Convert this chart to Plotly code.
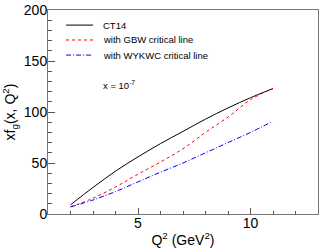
import plotly.graph_objects as go

q2 = [2, 3, 4, 5, 6, 7, 8, 9, 10, 11]
ct14 = [9, 26, 42, 56, 69, 81, 93, 104, 114, 123]
gbw = [7, 15.5, 26.5, 39, 51, 64, 80, 95, 112, 123]
wykwc = [7, 13.7, 22, 31.5, 41, 50, 60, 70, 80, 91]

series_names = ["CT14", "with GBW critical line", "with WYKWC critical line"]
series_colors = ["black", "#ff0000", "#0000ff"]
series_dash = ["solid", "3px,3px", "5px,2px,1px,2px"]
series_values = [ct14, gbw, wykwc]

FONT = "Liberation Sans, Arial, Helvetica, sans-serif"

fig = go.Figure()
for name, col, dash, vals in zip(series_names, series_colors, series_dash, series_values):
    fig.add_trace(go.Scatter(x=q2, y=vals, mode="lines", name=name, showlegend=False,
                             line=dict(color=col, width=1, dash=dash, shape="spline")))

# manual ROOT-style legend
leg_y = [0.926, 0.853, 0.779]
for name, col, dash, yy in zip(series_names, series_colors, series_dash, leg_y):
    fig.add_shape(type="line", xref="paper", yref="paper", x0=0.067, x1=0.167, y0=yy, y1=yy,
                  line=dict(color=col, width=1, dash=dash))
    fig.add_annotation(x=0.196, y=yy, xref="paper", yref="paper", xanchor="left", yanchor="middle",
                       text=name, showarrow=False, font=dict(family=FONT, size=9.5, color="black"))

fig.add_annotation(x=0.196, y=0.63, xref="paper", yref="paper", xanchor="left", yanchor="middle",
                   text="x = 10<sup>-7</sup>", showarrow=False,
                   font=dict(family=FONT, size=9.5, color="black"))

axis_common = dict(showline=True, linecolor="#777777", linewidth=1, mirror=True,
                   ticks="inside", tickcolor="#555555", showgrid=False, zeroline=False,
                   automargin=False, ticklabeloverflow="allow",
                   tickfont=dict(family=FONT, size=14, color="black"))

fig.update_xaxes(range=[1, 13], dtick=5, tick0=0, ticklen=6,
                 minor=dict(dtick=1, tick0=0, ticklen=3, ticks="inside", tickcolor="#555555"),
                 title=dict(text="Q<sup>2</sup> (GeV<sup>2</sup>)", font=dict(family=FONT, size=14, color="black"),
                            standoff=5),
                 **axis_common)
fig.update_yaxes(range=[0, 200], dtick=50, tick0=0, ticklen=7,
                 minor=dict(dtick=10, tick0=0, ticklen=4, ticks="inside", tickcolor="#555555"),
                 title=dict(text="xf<sub>g</sub>(x, Q<sup>2</sup>)", font=dict(family=FONT, size=14, color="black"),
                            standoff=14),
                 **axis_common)

try:
    fig.update_xaxes(ticklabelstandoff=-4)
    fig.update_yaxes(ticklabelstandoff=-3)
except Exception:
    pass

fig.update_layout(
    width=332, height=249,
    margin=dict(l=48, r=14, t=10, b=35),
    paper_bgcolor="white", plot_bgcolor="white",
    showlegend=False,
)

fig.write_html("out.html", config={"displayModeBar": False},
               post_script="document.body.style.margin='0';document.body.style.overflow='hidden';")
